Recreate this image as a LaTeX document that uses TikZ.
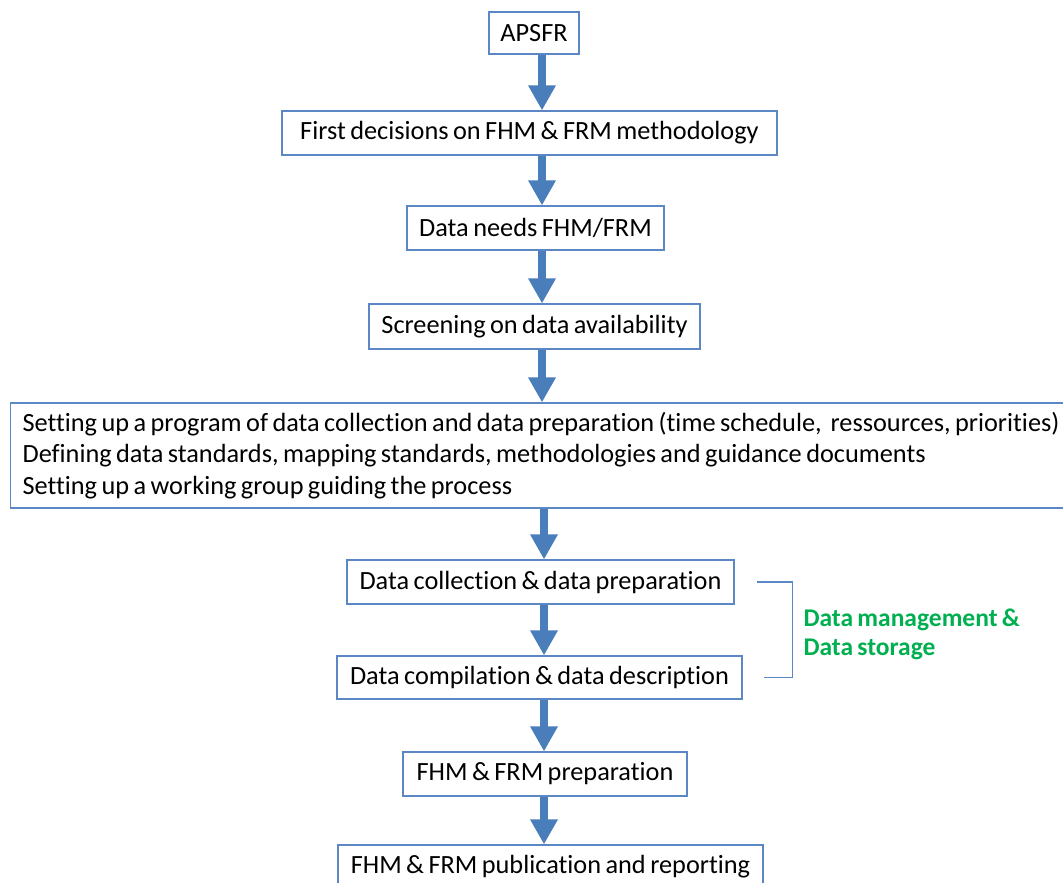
\documentclass[tikz,border=0pt]{standalone}
\usepackage{fontspec}
\setmainfont{Carlito}[WordSpace=0.75,Ligatures=NoCommon]
\usetikzlibrary{arrows.meta}
\definecolor{boxblue}{RGB}{91,135,196}
\definecolor{arrowblue}{RGB}{74,126,187}
\definecolor{mgmtgreen}{RGB}{0,176,80}

\begin{document}
\begin{tikzpicture}[x=1pt,y=-1pt,
  stage/.style={draw=boxblue, line width=1.2pt, fill=white, inner sep=0pt,
    minimum height=44pt, font=\fontsize{26.3}{31.5}\selectfont},
  flow/.style={arrowblue, line width=8pt, -{Triangle[length=25pt,width=26pt]}},
  brace/.style={boxblue, line width=1.2pt}]
  \clip (0,0) rectangle (1063,883);
  \coordinate (spine) at (542,0);
  \coordinate (spinelow) at (544,0);

  % main chain
  \node[stage, minimum width=90pt, minimum height=42pt] (apsfr) at (534,33) {APSFR};
  \node[stage, minimum width=495pt] (first) at (529.5,133) {First decisions on FHM \& FRM methodology};
  \node[stage, minimum width=257pt] (needs) at (535.5,228) {Data needs FHM/FRM};
  \node[stage, minimum width=331pt, minimum height=45pt] (screen) at (534.5,326.5) {Screening on data availability};
  \node[stage, anchor=west, inner xsep=12pt, minimum height=105pt, align=left] (program) at (10,455.5)
    {Setting up a program of data collection and data preparation (time schedule,\ \ ressources, priorities)\\
     Defining data standards, mapping standards, methodologies and guidance documents\\
     Setting up a working group guiding the process};
  \node[stage, minimum width=387pt] (collect) at (540.5,582) {Data collection \& data preparation};
  \node[stage, minimum width=405pt, minimum height=43pt] (compile) at (539.5,677.5) {Data compilation \& data description};
  \node[stage, minimum width=284pt] (fhmprep) at (545,774) {FHM \& FRM preparation};
  \node[stage, minimum width=425pt] (publish) at (550.5,867) {FHM \& FRM publication and reporting};

  \draw[flow] (apsfr.south -| spine) -- (first.north -| spine);
  \draw[flow] (first.south -| spine) -- (needs.north -| spine);
  \draw[flow] (needs.south -| spine) -- (screen.north -| spine);
  \draw[flow] (screen.south -| spine) -- (program.north -| spine);
  \draw[flow] (program.south -| spinelow) -- (collect.north -| spinelow);
  \draw[flow] (collect.south -| spinelow) -- (compile.north -| spinelow);
  \draw[flow] (compile.south -| spinelow) -- (fhmprep.north -| spinelow);
  \draw[flow] (fhmprep.south -| spinelow) -- (publish.north -| spinelow);

  % data management bracket
  \draw[brace] ([xshift=22pt]collect.east) -- ++(36,0) |- ([xshift=21pt]compile.east);
  \node[anchor=west, align=left, text=mgmtgreen, font=\fontsize{25.5}{29}\selectfont\bfseries]
    (mgmt) at (800,634) {Data management \&\\Data storage};
\end{tikzpicture}
\end{document}
